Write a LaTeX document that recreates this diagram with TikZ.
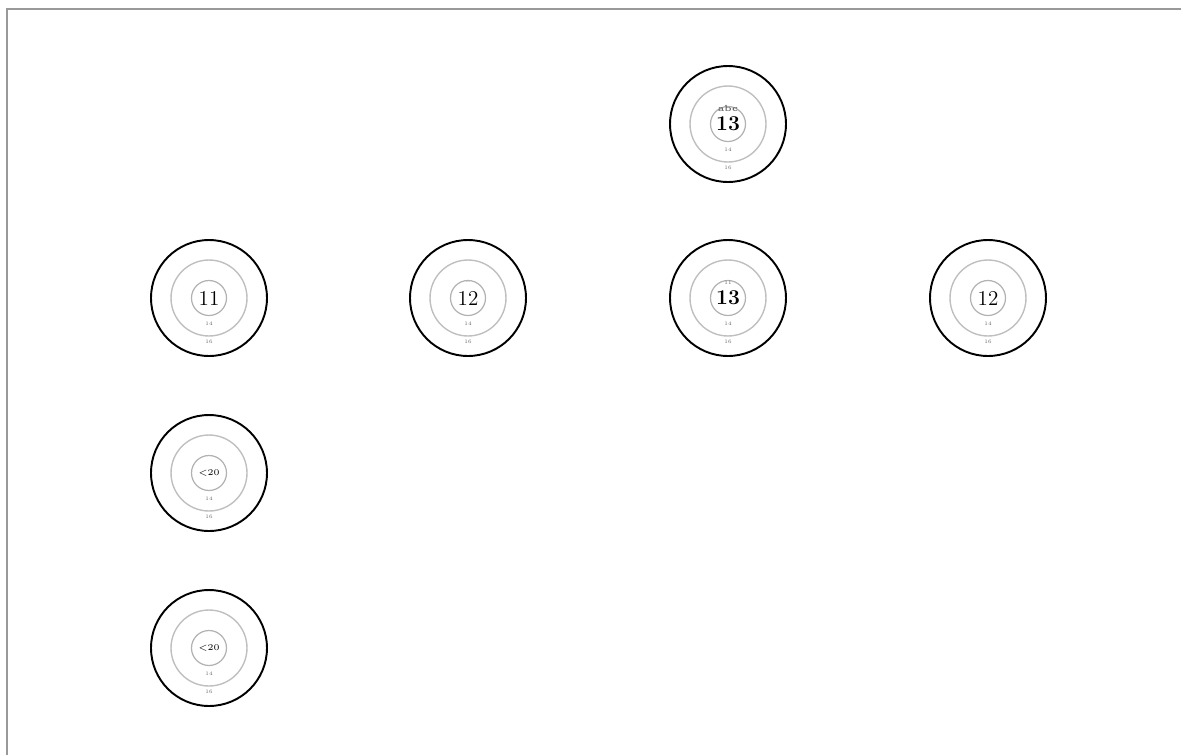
\documentclass[tikz,border=0pt]{standalone}
\usetikzlibrary{calc}
\begin{document}
\tikzset{
    target/.style={circle, draw=gray!60, line width=0.7pt, minimum size=0.7cm, inner sep=0pt, font=\large},
    ring/.style={draw=gray!50, line width=0.8pt},
    rim/.style={draw=black, line width=1.1pt},
    tag/.style={font=\fontsize{3}{3}\selectfont, text=gray!80!black, inner sep=0pt}
}
\begin{tikzpicture}[x=0.02cm, y=-0.02cm]
    \useasboundingbox (0,0) rectangle (1181,755);
    % Page frame
    \draw[gray!80, line width=1.2pt] (7,755) -- (7,9) -- (1181,9);

    % Targets: name / x / y / score
    \foreach \name/\px/\py/\score in {top/728/124/\textbf{13}, a/209/298/11, b/468/298/12,
        c/728/298/\textbf{13}, d/988/298/12, e/209/473/{\tiny <20}, f/209/648/{\tiny <20}} {
        \node[target] (\name) at (\px,\py) {\score};
        \draw[ring] (\name.center) circle (0.76cm);
        \draw[rim] (\name.center) circle (1.16cm);
        \node[tag] (\name-in) at ($(\name.center)+(0,26)$) {14};
        \node[tag] (\name-out) at ($(\name.center)+(0,44)$) {16};
    }

    % Marks above some scores
    \node[tag, font=\fontsize{5}{5}\selectfont\bfseries] (top-mark) at ($(top.center)+(0,-16)$) {abc};
    \node[tag] (b-mark) at ($(b.center)+(0,-15)$) {--};
    \node[tag] (c-mark) at ($(c.center)+(0,-15)$) {11};
\end{tikzpicture}
\end{document}
